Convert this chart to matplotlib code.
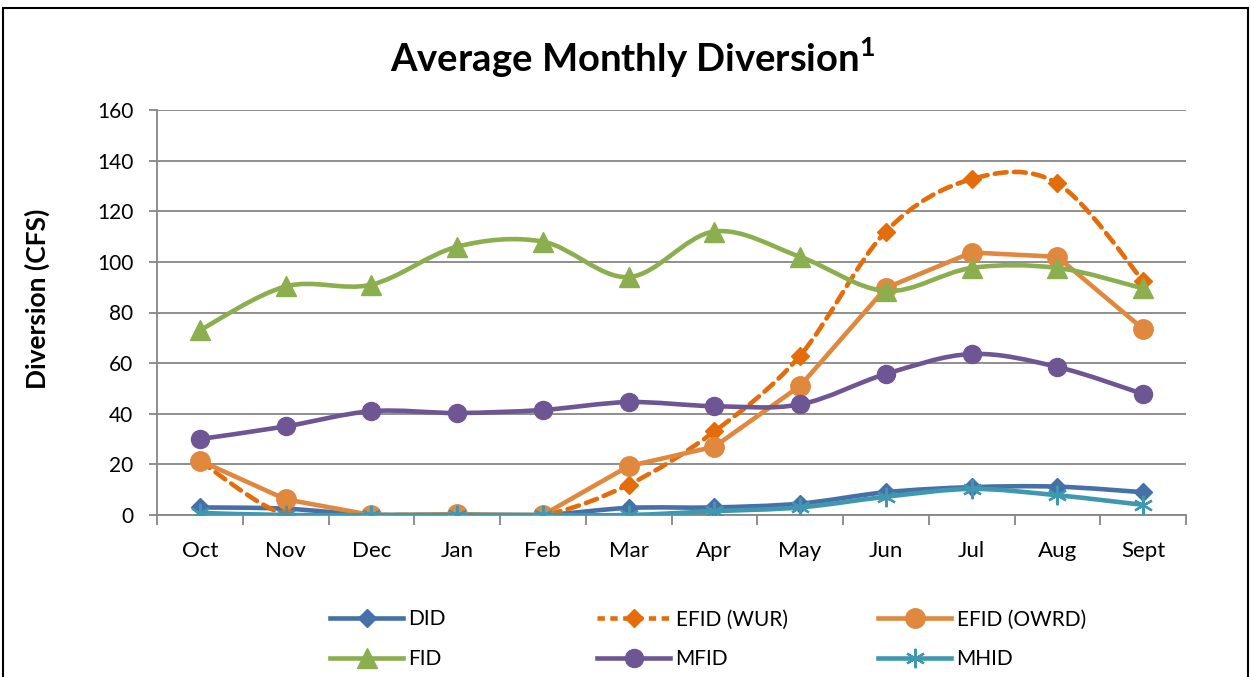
import numpy as np
import matplotlib.pyplot as plt
from matplotlib.path import Path
from matplotlib.patches import PathPatch, Rectangle
from matplotlib.lines import Line2D

plt.rcParams["font.family"] = ["Lato", "DejaVu Sans"]
plt.rcParams["mathtext.fontset"] = "custom"
plt.rcParams["mathtext.rm"] = "Lato"
plt.rcParams["mathtext.bf"] = "Lato:bold"

months = ["Oct", "Nov", "Dec", "Jan", "Feb", "Mar", "Apr", "May", "Jun", "Jul", "Aug", "Sept"]

did = [3.0, 2.5, 0.0, 0.0, 0.0, 2.8, 3.0, 4.5, 9.0, 11.0, 11.2, 9.0]
efid_wur = [21.3, 0.0, 0.0, 0.0, 0.0, 12.0, 33.0, 63.0, 112.0, 132.7, 131.0, 92.5]
efid_owrd = [21.5, 6.2, 0.0, 0.3, 0.0, 19.3, 27.0, 51.0, 89.7, 103.7, 102.0, 73.5]
fid = [73.0, 90.3, 91.0, 106.0, 108.0, 94.0, 112.0, 102.0, 88.5, 97.6, 97.6, 89.5]
mfid = [30.0, 35.0, 41.0, 40.3, 41.5, 44.6, 43.0, 43.7, 55.7, 63.6, 58.5, 47.8]
mhid = [0.8, 0.0, 0.0, 0.0, 0.0, 0.0, 1.5, 3.0, 7.2, 10.3, 7.8, 4.0]

yticks = [0, 20, 40, 60, 80, 100, 120, 140, 160]

# (label, values, colour, marker, markersize, dashed, smoothed)
series = [
    ("DID", did, "#4571A8", "D", 9.5, False, True),
    ("EFID (WUR)", efid_wur, "#E46C0A", "D", 9.5, True, True),
    ("EFID (OWRD)", efid_owrd, "#E0883E", "o", 14, False, False),
    ("FID", fid, "#8BAF4E", "^", 14, False, True),
    ("MFID", mfid, "#6E5594", "o", 13, False, True),
    ("MHID", mhid, "#3F98AF", (6, 2, 0), 14, False, True),
]


def smooth_path(x, y):
    # courbe lissée façon Excel (Bézier Catmull-Rom)
    pts = np.column_stack([np.asarray(x, float), np.asarray(y, float)])
    ext = np.vstack([pts[0], pts, pts[-1]])
    verts = [pts[0]]
    codes = [Path.MOVETO]
    for i in range(len(pts) - 1):
        p0, p1, p2, p3 = ext[i], ext[i + 1], ext[i + 2], ext[i + 3]
        verts += [p1 + (p2 - p0) / 6, p2 - (p3 - p1) / 6, p2]
        codes += [Path.CURVE4] * 3
    return Path(verts, codes)


fig = plt.figure(figsize=(12.51, 6.77), dpi=100)
ax = fig.add_axes([157 / 1251, 1 - 515 / 677, 1029 / 1251, 405 / 677])

x = np.arange(len(months))
lw = 3.3
handles = []
for k, (lbl, vals, col, mk, ms, dashed, smooth) in enumerate(series):
    z = 3 + k
    ls = (0, (2.6, 1.6)) if dashed else "-"
    if smooth:
        patch = PathPatch(smooth_path(x, vals), fill=False, edgecolor=col, lw=lw,
                          linestyle=ls, capstyle="round", joinstyle="round", zorder=z)
        ax.add_patch(patch)
    else:
        ax.plot(x, vals, color=col, lw=lw, ls=ls, solid_capstyle="round",
                solid_joinstyle="round", zorder=z)
    if mk == (6, 2, 0):
        ax.plot(x, vals, ls="none", marker=mk, ms=ms, mec=col, mew=1.6, zorder=z + 0.5)
    else:
        ax.plot(x, vals, ls="none", marker=mk, ms=ms, mfc=col, mec=col, zorder=z + 0.5)
    handles.append(Line2D([], [], color=col, lw=lw, ls="--" if dashed else "-",
                          dashes=(1.6, 1.2) if dashed else (None, None),
                          marker=mk, ms=ms, mfc=col, mec=col,
                          mew=1.6 if mk == (6, 2, 0) else 1.0))

ax.set_xlim(-0.5, len(months) - 0.5)
ax.set_ylim(0, 160)
ax.set_yticks(yticks)
ax.set_xticks(x)
ax.set_xticklabels(months)
ax.set_xticks(np.arange(-0.5, len(months)), minor=True)
ax.tick_params(axis="x", which="major", length=0, pad=18.5, labelsize=16)
ax.tick_params(axis="x", which="minor", length=7, width=1.3, color="#868686", direction="out")
ax.tick_params(axis="y", length=6, width=1.3, color="#868686", pad=11, labelsize=15)
ax.grid(axis="y", color="#868686", lw=1.3, zorder=1)
ax.set_axisbelow(True)
for s in ["top", "right"]:
    ax.spines[s].set_visible(False)
for s in ["left", "bottom"]:
    ax.spines[s].set_color("#868686")
    ax.spines[s].set_linewidth(1.3)
ax.spines["bottom"].set_zorder(2)

ax.set_ylabel("Diversion (CFS)", fontsize=19, fontweight="bold")
ax.yaxis.set_label_coords(-0.104, 0.535)

fig.text(0.506, 1 - 58 / 677, r"Average Monthly Diversion$^{\mathbf{1}}$", ha="center",
         va="center", fontsize=27.5, fontweight="bold")

labels = [s[0] for s in series]
cols = [(0, 3), (1, 4), (2, 5)]
xs = [320, 587, 868]
for (a, b), xl in zip(cols, xs):
    fig.legend([handles[a], handles[b]], [labels[a], labels[b]], loc="upper left",
               bbox_to_anchor=(xl / 1251, 1 - 599 / 677), frameon=False, fontsize=15,
               handlelength=3.5, handletextpad=0.25, labelspacing=0.95, borderpad=0)

fig.add_artist(Rectangle((3 / 1251, -0.05), 1245 / 1251, 1.05 - 8 / 677,
                         transform=fig.transFigure, fill=False, edgecolor="black", lw=1.5))

fig.savefig("out.png", dpi=100)
